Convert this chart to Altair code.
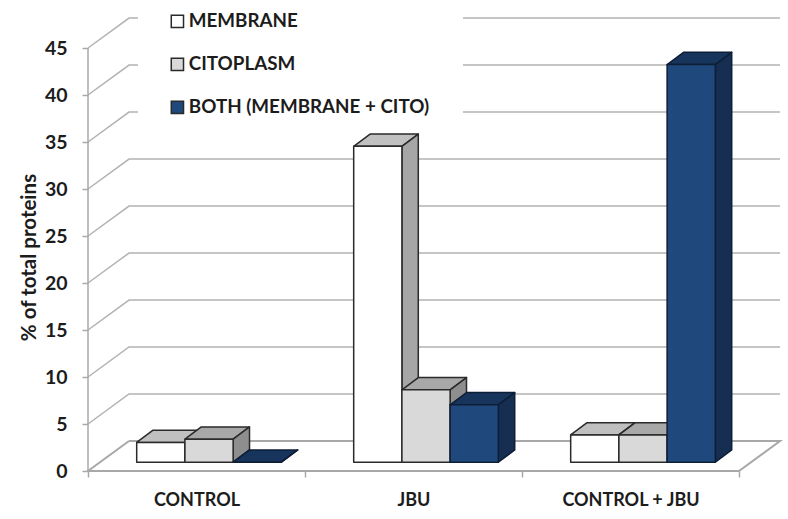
import altair as alt
import pandas as pd

# Percentages of total proteins per treatment and localisation
groups = ["CONTROL", "JBU", "CONTROL + JBU"]
series_names = ["MEMBRANE", "CITOPLASM", "BOTH (MEMBRANE + CITO)"]
membrane = [2.1, 33.6, 2.9]
citoplasm = [2.45, 7.7, 2.9]
both = [0.0, 6.1, 42.3]
series_values = [membrane, citoplasm, both]
y_ticks = [0, 5, 10, 15, 20, 25, 30, 35, 40, 45]

# Face colours of each box: front, top, side, outline
front_fill = ["#ffffff", "#d9d9d9", "#1f497d"]
top_fill = ["#c0c0c0", "#a8a8a8", "#17345c"]
side_fill = ["#a6a6a6", "#8e8e8e", "#152e52"]
outline = ["#2a2a2a", "#2a2a2a", "#0e1e36"]

FONT = "Lato"
TEXT = "#1c1c1c"
GRID = "#b2b2b2"

# Oblique projection, in axis units: the floor recedes by this much
FLOOR_DX = 0.189
FLOOR_DY = 3.19
# Box placement inside the floor depth
BOX_X0 = 0.2244
BOX_W = 0.2222
BOX_DX = 0.0755
BOX_DY = 1.3
BOX_BASE = 0.94
X_END = 3.0 + FLOOR_DX
# The back-wall gridlines near the key are interrupted between these positions
KEY_GAP = (0.2304, 1.728)

x_scale = alt.Scale(domain=[0, 3.189], nice=False, zero=False)
y_scale = alt.Scale(domain=[0, 48.3], nice=False, zero=False)

# Both axes are shared by every layer
label_expr = " : ".join(
    f"datum.value == {i + 0.5} ? '{g}'" for i, g in enumerate(groups)
) + " : ''"
x_axis = alt.Axis(
    values=[0, 0.5, 1, 1.5, 2, 2.5, 3], labelExpr=label_expr, title=None, domain=False,
    grid=False, tickSize=6, tickColor="#a8a8a8", tickWidth=1.5,
    tickOpacity=alt.expr("datum.value % 1 == 0 ? 1 : 0"), labelFont=FONT, labelFontWeight="bold",
    labelFontSize=18, labelColor=TEXT, labelPadding=14, labelFlush=False, labelOverlap=False,
)
y_axis = alt.Axis(
    values=y_ticks, title="% of total proteins", domain=False, grid=False, tickSize=6,
    tickColor="#a8a8a8", tickWidth=1.5, labelFont=FONT, labelFontWeight="bold", labelFontSize=19.5,
    labelColor=TEXT, labelPadding=15, titleFont=FONT, titleFontWeight="bold", titleFontSize=20.5,
    titleColor=TEXT, titleX=-49, titleY=240,
)
X = lambda f: alt.X(f, type="quantitative", scale=x_scale, axis=x_axis)
Y = lambda f: alt.Y(f, type="quantitative", scale=y_scale, axis=y_axis)

# Wall gridlines: a slanted run up the side wall, then along the back wall
grid_rows = []
for v in y_ticks[1:]:
    yb = v + FLOOR_DY
    if v >= 35:
        path = [(0, v, "a"), (FLOOR_DX, yb, "a"), (KEY_GAP[0], yb, "a"),
                (KEY_GAP[1], yb, "b"), (X_END, yb, "b")]
    else:
        path = [(0, v, "a"), (FLOOR_DX, yb, "a"), (X_END, yb, "a")]
    for n, (x, y, seg) in enumerate(path):
        grid_rows.append({"x": x, "y": y, "key": f"{v}{seg}", "n": n})
grid = alt.Chart(pd.DataFrame(grid_rows)).mark_line(color=GRID, strokeWidth=1.5).encode(
    x=X("x"), y=Y("y"), detail="key:N", order="n:Q"
)

# Outline of the floor plate
floor_path = [(FLOOR_DX, FLOOR_DY), (0, 0), (3, 0), (X_END, FLOOR_DY), (FLOOR_DX, FLOOR_DY)]
floor = alt.Chart(pd.DataFrame(
    [{"x": x, "y": y, "n": n} for n, (x, y) in enumerate(floor_path)]
)).mark_line(color="#a8a8a8", strokeWidth=2).encode(x=X("x"), y=Y("y"), order="n:Q")

# Vertical axis line stops at the top tick
axis_line = alt.Chart(pd.DataFrame({"x": [0], "y": [0], "y2": [45]})).mark_rule(
    color="#a8a8a8", strokeWidth=1.5
).encode(x=X("x"), y=Y("y"), y2="y2:Q")

# Boxes are painted left to right so that each one hides the side of its neighbour
color_scale = alt.Scale(domain=series_names, range=front_fill)
legend = alt.Legend(
    orient="none", legendX=80, legendY=-5, title=None, symbolType="square", symbolSize=150,
    symbolStrokeWidth=1.5, symbolStrokeColor="#2a2a2a", symbolOpacity=1, labelFont=FONT,
    labelFontWeight="bold", labelFontSize=18.8, labelColor=TEXT, rowPadding=23, labelOffset=2,
    labelLimit=400, columns=1, values=series_names,
)
boxes = []
for g in range(len(groups)):
    for s, values in enumerate(series_values):
        v = values[g]
        left = g + BOX_X0 + s * BOX_W
        right = left + BOX_W
        top = BOX_BASE + v
        style = dict(stroke=outline[s], strokeWidth=1.5, strokeJoin="round")
        top_face = alt.Chart(pd.DataFrame({
            "y": [top, top + BOX_DY],
            "x": [left, left + BOX_DX],
            "x2": [right, right + BOX_DX],
        })).mark_area(orient="horizontal", fill=top_fill[s], **style).encode(
            y=Y("y"), x=X("x"), x2="x2:Q"
        )
        side_face = alt.Chart(pd.DataFrame({
            "x": [right, right + BOX_DX],
            "y": [BOX_BASE, BOX_BASE + BOX_DY],
            "y2": [top, top + BOX_DY],
        })).mark_area(orient="vertical", fill=side_fill[s], **style).encode(
            x=X("x"), y=Y("y"), y2="y2:Q"
        )
        front_face = alt.Chart(pd.DataFrame({
            "x": [left], "x2": [right], "y": [BOX_BASE], "y2": [top], "series": [series_names[s]],
        })).mark_rect(**style).encode(
            x=X("x"), x2="x2:Q", y=Y("y"), y2="y2:Q",
            fill=alt.Fill("series:N", scale=color_scale, legend=legend),
        )
        boxes += [top_face, side_face, front_face]

chart = alt.layer(grid, floor, axis_line, *boxes).properties(
    width=692,
    height=454,
    autosize=alt.AutoSizeParams(type="none"),
    padding={"left": 88, "top": 17, "right": 8, "bottom": 48},
    background="white",
).configure_view(stroke=None)

chart.save("out.html", embed_options={"renderer": "svg", "actions": False})
